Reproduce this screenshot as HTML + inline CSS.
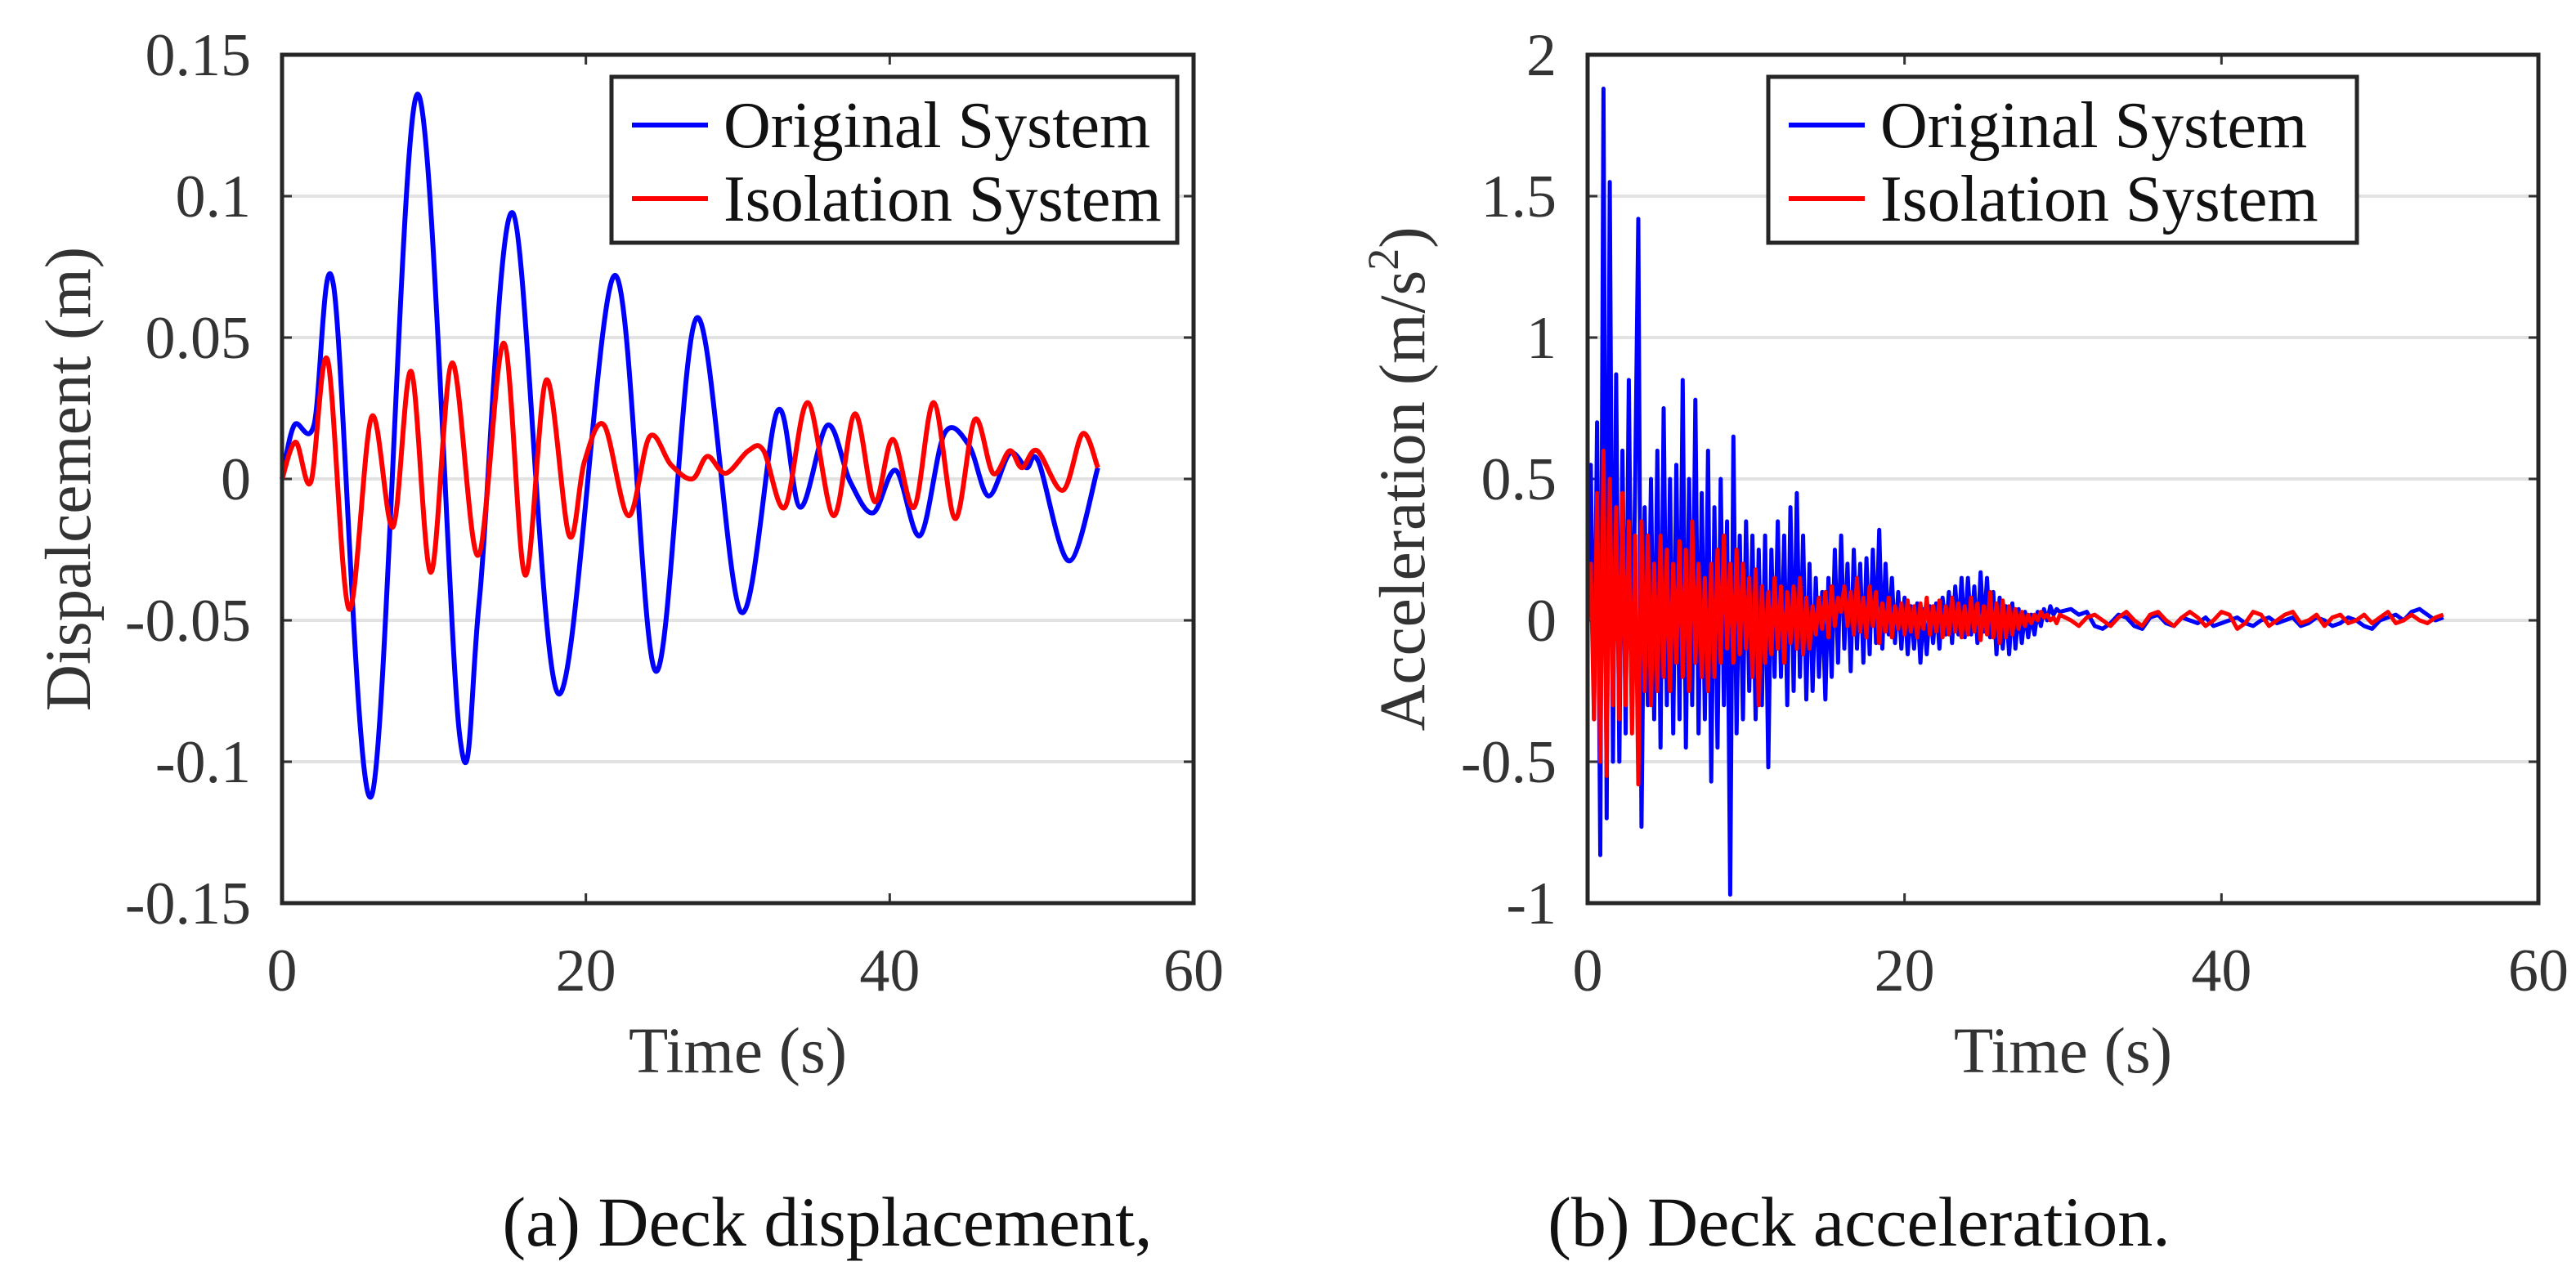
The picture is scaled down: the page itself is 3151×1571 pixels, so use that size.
<!DOCTYPE html>
<html><head><meta charset="utf-8"><style>
html,body{margin:0;padding:0;background:#fff;}
svg{display:block;font-family:"Liberation Serif",serif;}
</style></head><body>
<svg id="fig" width="3151" height="1571" viewBox="0 0 3151 1571" xmlns="http://www.w3.org/2000/svg">
<text x="1012" y="1524" font-size="86" text-anchor="middle" fill="#111">(a) Deck displacement,</text>
<text x="2274" y="1524" font-size="86" text-anchor="middle" fill="#111">(b) Deck acceleration.</text>
</svg>
<script>
// ---- Panel A data (displacement) ----
const dispOrigT=[0,0.8,2.1,3.4,5.9,8.9,11.7,13,15.2,18.2,21.9,24.6,27.3,30.2,32.6,34.1,35.9,37.4,38.9,40.4,42,43.6,45.2,46.5,47.9,49,49.8,51.8,53.7];
const dispOrigV=[0,0.019,0.019,0.068,-0.112,0.136,-0.091,-0.042,0.094,-0.076,0.072,-0.068,0.057,-0.047,0.024,-0.01,0.019,-0.001,-0.012,0.003,-0.02,0.016,0.012,-0.006,0.009,0.004,0.006,-0.029,0.004];
const dispIsoT=[0,0.9,1.9,3.0,4.4,5.9,7.3,8.5,9.8,11.2,12.9,14.6,16,17.4,18.9,19.9,21.2,22.8,24.2,25.6,27,28,29.2,30.7,31.7,33.1,34.6,36.3,37.7,39,40.2,41.6,42.9,44.3,45.6,46.8,47.9,48.7,49.7,51.4,52.7,53.7];
const dispIsoV=[0,0.013,-0.001,0.042,-0.046,0.022,-0.017,0.038,-0.033,0.041,-0.027,0.048,-0.034,0.035,-0.02,0.006,0.019,-0.013,0.015,0.005,0,0.008,0.002,0.01,0.01,-0.01,0.027,-0.013,0.023,-0.008,0.014,-0.01,0.027,-0.014,0.021,0.002,0.01,0.004,0.01,-0.004,0.016,0.004];
const dispYTicks=[0.15,0.1,0.05,0,-0.05,-0.1,-0.15];
const dispYLabels=["0.15","0.1","0.05","0","-0.05","-0.1","-0.15"];
const xTicks=[0,20,40,60];
const xLabels=["0","20","40","60"];
// ---- Panel B data (acceleration) ----
const accDenseDt=0.2, accTailStart=30, accTailDt=0.5;
const accOrigDense=[0,0.55,-0.35,0.7,-0.83,1.88,-0.7,1.55,-0.5,0.87,
-0.5,0.6,-0.4,0.85,-0.3,0.5,1.42,-0.73,0.4,-0.3,
0.5,-0.35,0.6,-0.45,0.75,-0.3,0.5,-0.4,0.55,-0.35,
0.85,-0.45,0.5,-0.3,0.78,-0.4,0.45,-0.35,0.6,-0.57,
0.4,-0.45,0.5,-0.3,0.35,-0.97,0.65,-0.4,0.3,-0.35,
0.35,-0.25,0.3,-0.35,0.25,-0.3,0.3,-0.52,0.25,-0.2,
0.35,-0.2,0.3,-0.3,0.4,-0.25,0.45,-0.2,0.3,-0.28,
0.2,-0.25,0.15,-0.2,0.1,-0.28,0.15,-0.2,0.25,-0.15,
0.3,-0.1,0.2,-0.18,0.25,-0.1,0.2,-0.15,0.22,-0.12,
0.25,-0.08,0.32,-0.1,0.2,-0.05,0.15,-0.08,0.1,-0.1,
0.08,-0.12,0.05,-0.1,0.06,-0.15,0.04,-0.12,0.05,-0.08,
0.06,-0.1,0.08,-0.05,0.1,-0.08,0.12,-0.05,0.15,-0.06,
0.15,-0.05,0.12,-0.08,0.17,-0.04,0.15,-0.06,0.1,-0.12,
0.08,-0.1,0.05,-0.12,0.06,-0.1,0.04,-0.08,0.03,-0.06,
0.02,-0.05,0.03,-0.02,0.04,0.0,0.05,0.02,0.04,0.03];
const accOrigTail=[0.04,0.02,0.03,-0.02,-0.03,-0.01,0.02,0.01,-0.02,-0.03,0.01,0.02,-0.01,-0.02,0.01,0.0,-0.01,0.01,-0.02,-0.01,0.0,0.01,-0.01,-0.02,0.0,0.01,-0.01,0.0,0.01,-0.02,-0.01,0.01,0.0,-0.02,-0.01,0.01,0.0,-0.02,-0.03,0.0,0.01,0.02,0.0,0.03,0.04,0.02,0.0,0.01];
const accIsoDense=[0,0.2,-0.35,0.45,-0.5,0.6,-0.55,0.5,-0.3,0.4,
-0.35,0.45,-0.3,0.35,-0.4,0.3,-0.58,0.35,-0.25,0.3,
-0.3,0.2,-0.25,0.3,-0.2,0.25,-0.25,0.2,-0.15,0.28,
-0.2,0.25,-0.25,0.35,-0.15,0.2,-0.2,0.15,-0.25,0.2,
-0.2,0.25,-0.15,0.3,-0.1,0.2,-0.15,0.25,-0.12,0.2,
-0.1,0.15,-0.2,0.18,-0.3,0.12,-0.15,0.1,-0.12,0.15,
-0.1,0.12,-0.15,0.1,-0.08,0.12,-0.1,0.15,-0.12,0.08,
-0.1,0.05,-0.05,0.08,-0.03,0.1,-0.06,0.12,-0.02,0.08,
0.03,0.12,-0.02,0.1,-0.05,0.15,-0.04,0.08,-0.06,0.12,
-0.02,0.1,-0.08,0.06,-0.04,0.08,-0.06,0.05,-0.03,0.06,
-0.05,0.07,-0.04,0.05,-0.06,0.06,-0.03,0.08,-0.05,0.05,
-0.04,0.07,-0.06,0.05,-0.05,0.08,-0.04,0.06,-0.06,0.05,
-0.05,0.08,-0.04,0.06,-0.07,0.05,-0.05,0.1,-0.06,0.06,
-0.08,0.07,-0.06,0.05,-0.05,0.04,-0.03,0.03,-0.02,0.02,
-0.01,0.02,0.0,0.03,0.01,0.02,0.0,0.01,-0.01,0.02];
const accIsoTail=[0.0,-0.02,0.01,0.02,0.0,-0.02,0.01,0.03,0.0,-0.02,0.02,0.03,0.0,-0.02,0.01,0.03,0.01,-0.02,0.0,0.03,0.02,-0.03,-0.01,0.03,0.02,-0.02,0.0,0.02,0.03,-0.01,0.0,0.02,-0.02,0.01,0.02,-0.01,0.0,0.02,-0.01,0.01,0.03,-0.01,0.0,0.02,0.0,-0.01,0.01,0.02];
const accYTicks=[2,1.5,1,0.5,0,-0.5,-1];
const accYLabels=["2","1.5","1","0.5","0","-0.5","-1"];

const NS="http://www.w3.org/2000/svg";
const svg=document.getElementById('fig');
function mk(tag,attrs,parent){const e=document.createElementNS(NS,tag);for(const k in attrs)e.setAttribute(k,attrs[k]);(parent||svg).appendChild(e);return e;}

function expand(dense,tail){const t=[],v=[];
  for(let i=0;i<dense.length;i++){t.push(i*accDenseDt);v.push(dense[i]);}
  for(let i=0;i<tail.length;i++){t.push(accTailStart+(i+1)*accTailDt);v.push(tail[i]);}
  return [t,v];}

function smoothPath(pts){let d='M'+pts[0][0].toFixed(1)+','+pts[0][1].toFixed(1);
  for(let i=0;i<pts.length-1;i++){const p0=pts[Math.max(0,i-1)],p1=pts[i],p2=pts[i+1],p3=pts[Math.min(pts.length-1,i+2)];
    const c1=[p1[0]+(p2[0]-p0[0])/6,p1[1]+(p2[1]-p0[1])/6],c2=[p2[0]-(p3[0]-p1[0])/6,p2[1]-(p3[1]-p1[1])/6];
    d+=' C'+c1[0].toFixed(1)+','+c1[1].toFixed(1)+' '+c2[0].toFixed(1)+','+c2[1].toFixed(1)+' '+p2[0].toFixed(1)+','+p2[1].toFixed(1);}
  return d;}
function linePath(pts){return 'M'+pts.map(p=>p[0].toFixed(1)+','+p[1].toFixed(1)).join(' L');}

function panel(cfg){
  const g=mk('g',{});
  
  
  const L=cfg.x0,R=cfg.x1,T=67,B=1105;
  const xs=t=>L+(t-0)/(60-0)*(R-L);
  const ys=v=>B-(v-cfg.ymin)/(cfg.ymax-cfg.ymin)*(B-T);
  cfg.yTicks.forEach((v,i)=>{
    if(v!==cfg.ymin&&v!==cfg.ymax){const gl=mk('line',{x1:L,x2:R,y1:ys(v),y2:ys(v),stroke:'#e2e2e2','stroke-width':4},g);
      
      }
    const tl=mk('text',{x:L-38,y:ys(v)+25,'font-size':74,'text-anchor':'end',fill:'#333'},g);
    tl.textContent=cfg.yLabels[i];
    
    
    mk('line',{x1:L,x2:L+12,y1:ys(v),y2:ys(v),stroke:'#333','stroke-width':3},g);
    mk('line',{x1:R,x2:R-12,y1:ys(v),y2:ys(v),stroke:'#333','stroke-width':3},g);
  });
  xTicks.forEach((t,i)=>{
    const tl=mk('text',{x:xs(t),y:1212,'font-size':74,'text-anchor':'middle',fill:'#333'},g);
    tl.textContent=xLabels[i];
    
    
    mk('line',{x1:xs(t),x2:xs(t),y1:B,y2:B-12,stroke:'#333','stroke-width':3},g);
    mk('line',{x1:xs(t),x2:xs(t),y1:T,y2:T+12,stroke:'#333','stroke-width':3},g);
  });
  cfg.series.forEach(s=>{
    const pts=s.t.map((t,i)=>[xs(t),ys(s.v[i])]);
    const p=mk('path',{d:cfg.smooth?smoothPath(pts):linePath(pts),fill:'none',stroke:s.color,'stroke-width':cfg.lw,'stroke-linejoin':'round'},g);
    
    
  });
  const box=mk('rect',{x:L,y:T,width:R-L,height:B-T,fill:'none',stroke:'#262626','stroke-width':5},g);
  
  
  const lg=mk('g',{},g);
  
  
  mk('rect',{x:cfg.legX,y:94,width:cfg.legW,height:203,fill:'#fff',stroke:'#262626','stroke-width':5},lg);
  [['Original System','#0000ff',153],['Isolation System','#ff0000',243]].forEach(e=>{
    const le=mk('g',{},lg);
    
    
    mk('line',{x1:cfg.legX+25,x2:cfg.legX+118,y1:e[2],y2:e[2],stroke:e[1],'stroke-width':6},le);
    const tx=mk('text',{x:cfg.legX+137,y:e[2]+27,'font-size':80,fill:'#111'},le);
    tx.textContent=e[0];
  });
  const xt=mk('text',{x:(L+R)/2,y:1312,'font-size':79,'text-anchor':'middle',fill:'#333'},g);
  xt.textContent='Time (s)';
  
  
  const yt=mk('text',{x:0,y:0,'font-size':79,'text-anchor':'middle',fill:'#333',transform:'translate('+cfg.ytX+',586) rotate(-90)'},g);
  yt.innerHTML=cfg.ytitle;
  
  
}

panel({name:'displacement-chart',x0:345,x1:1460,ymin:-0.15,ymax:0.15,yTicks:dispYTicks,yLabels:dispYLabels,lw:6,smooth:true,
  series:[{t:dispOrigT,v:dispOrigV,color:'#0000ff',name:'original-system-line'},{t:dispIsoT,v:dispIsoV,color:'#ff0000',name:'isolation-system-line'}],
  legX:748,legW:692,ytX:110,ytitle:'Dispalcement (m)'});
const ao=expand(accOrigDense,accOrigTail), ai=expand(accIsoDense,accIsoTail);
panel({name:'acceleration-chart',x0:1942,x1:3105,ymin:-1,ymax:2,yTicks:accYTicks,yLabels:accYLabels,lw:5,smooth:false,
  series:[{t:ao[0],v:ao[1],color:'#0000ff',name:'original-system-line'},{t:ai[0],v:ai[1],color:'#ff0000',name:'isolation-system-line'}],
  legX:2163,legW:720,ytX:1742,ytitle:'Acceleration (m/s<tspan dy="-32" font-size="54">2</tspan><tspan dy="32">)</tspan>'});
</script>
</body></html>
